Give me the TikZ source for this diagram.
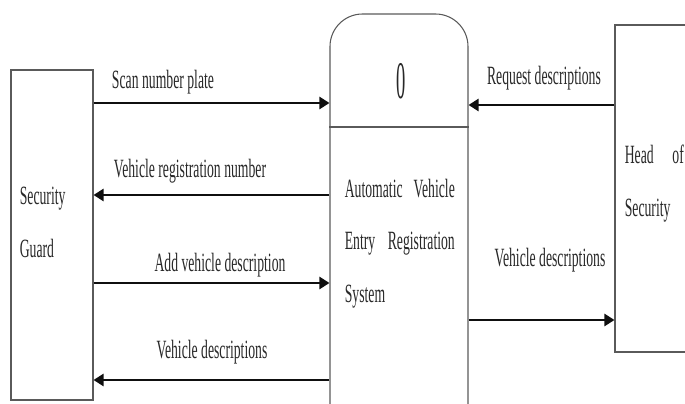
\documentclass[tikz,border=0pt]{standalone}
\usepackage{fontspec}
\setmainfont{Liberation Serif}
\newfontfamily\narrowserif[FakeStretch=0.52]{Liberation Serif}
\newfontfamily\tallserif[FakeStretch=0.35]{Liberation Serif}
\usetikzlibrary{arrows.meta,calc,positioning}
\definecolor{boxgray}{RGB}{90,90,90}
\definecolor{flowblack}{RGB}{15,15,15}
\definecolor{labeltext}{RGB}{40,40,40}
\tikzset{
entity/.style={draw=boxgray, line width=0.6pt, inner sep=0pt},
process/.style={draw=boxgray, line width=0.6pt, rounded corners=0.65cm, inner sep=0pt},
flow/.style={-{Triangle[length=2mm,width=2.4mm]}, line width=1.6pt, draw=flowblack},
flowlabel/.style={font=\narrowserif\fontsize{15}{17}\selectfont, text=labeltext, inner sep=1pt},
boxtext/.style={font=\narrowserif\fontsize{15}{30}\selectfont, text=labeltext, inner sep=0pt, align=left, anchor=north west},
procid/.style={font=\tallserif\fontsize{30}{30}\selectfont, text=labeltext}
}

\begin{document}
\begin{tikzpicture}[x=1cm,y=1cm]
\useasboundingbox (0,0) rectangle (13.7,8.08);
\clip (0,0) rectangle (13.7,8.08);

% external entities and the process
\node[entity, minimum width=1.64cm, minimum height=6.60cm] (guard) at (1.04,3.38) {};
\node[process, minimum width=2.76cm, minimum height=8.80cm] (proc) at (7.98,3.40) {};
\node[entity, minimum width=2.70cm, minimum height=6.54cm] (head) at (13.65,4.31) {};

\coordinate (split) at (0,5.54);
\draw[draw=boxgray, line width=0.6pt] (proc.west |- split) -- (proc.east |- split);

\node[procid] (pid) at ($(proc.north)+(0.04,-1.36)$) {0};
\node[boxtext, text width=2.2cm] (pname) at ($(proc.north west)+(0.30,-3.30)$)
{Automatic\hfill Vehicle\\Entry\hfill Registration\\System};
\node[boxtext] (gname) at ($(guard.north west)+(0.18,-2.35)$) {Security\\Guard};
\node[boxtext, text width=1.18cm] (hname) at ($(head.north west)+(0.20,-2.40)$)
{Head\hfill of\\Security};

% data flows
\coordinate (scanY) at (0,6.02);
\coordinate (vrnY) at (0,4.18);
\coordinate (addY) at (0,2.42);
\coordinate (vdY) at (0,0.48);
\coordinate (reqY) at (0,5.98);
\coordinate (vdhY) at (0,1.68);

\draw[flow] (guard.east |- scanY) -- (proc.west |- scanY);
\draw[flow] (proc.west |- vrnY) -- (guard.east |- vrnY);
\draw[flow] (guard.east |- addY) -- (proc.west |- addY);
\draw[flow] (proc.west |- vdY) -- (guard.east |- vdY);
\draw[flow] (head.west |- reqY) -- (proc.east |- reqY);
\draw[flow] (proc.east |- vdhY) -- (head.west |- vdhY);

\node[flowlabel] (scanlbl) at (3.26,6.44) {Scan number plate};
\node[flowlabel] (vrnlbl) at (3.80,4.66) {Vehicle registration number};
\node[flowlabel] (addlbl) at (4.40,2.78) {Add vehicle description};
\node[flowlabel] (vdlbl) at (4.24,1.04) {Vehicle descriptions};
\node[flowlabel] (reqlbl) at (10.88,6.52) {Request descriptions};
\node[flowlabel] (vdhlbl) at (11.00,2.88) {Vehicle descriptions};

\end{tikzpicture}
\end{document}
